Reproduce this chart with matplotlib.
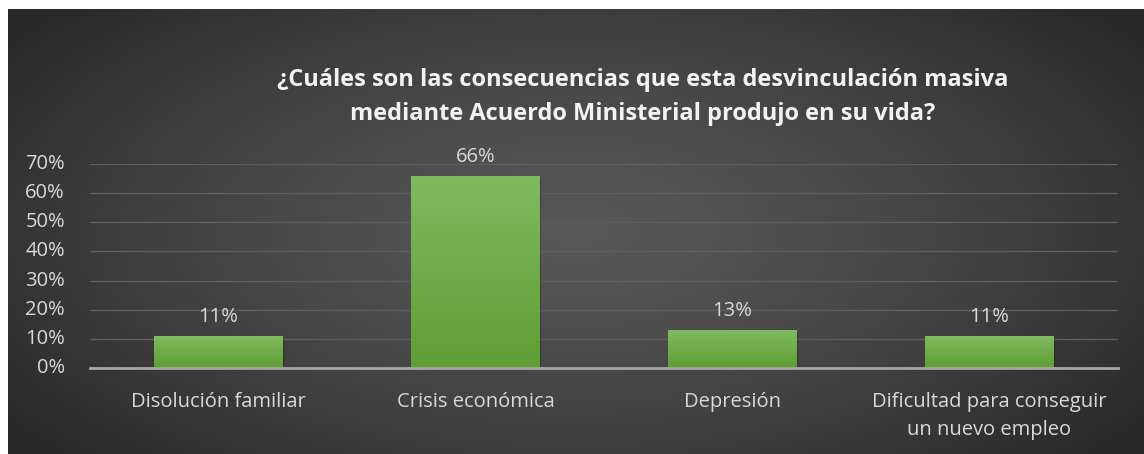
import numpy as np
import matplotlib.pyplot as plt
from matplotlib.patches import Rectangle

categorias = ["Disolución familiar", "Crisis económica", "Depresión",
              "Dificultad para conseguir\nun nuevo empleo"]
valores = [0.11, 0.66, 0.13, 0.11]
etiquetas = ["11%", "66%", "13%", "11%"]
ticks_y = [0, 0.1, 0.2, 0.3, 0.4, 0.5, 0.6, 0.7]
titulo = ("¿Cuáles son las consecuencias que esta desvinculación masiva\n"
          "mediante Acuerdo Ministerial produjo en su vida?")

plt.rcParams['font.family'] = ['Open Sans', 'DejaVu Sans']

fig = plt.figure(figsize=(11.44, 4.54), dpi=100)
fig.patch.set_facecolor("white")

# fondo con degradado radial
bg = fig.add_axes([8 / 1144, 0, 1 - 8 / 1144, 1 - 9 / 454])
yy, xx = np.mgrid[0:1:300j, 0:1:700j]
r = np.sqrt(((xx - 0.5) / 0.62) ** 2 + ((yy - 0.5) / 0.75) ** 2)
r = np.clip(r, 0, 1)
c0, c1 = 0.345, 0.16
img = c0 + (c1 - c0) * r ** 1.3
bg.imshow(np.dstack([img, img, img]), aspect="auto", extent=[0, 1, 0, 1])
bg.set_axis_off()

ax = fig.add_axes([90 / 1144, 86 / 454, 1028 / 1144, 204 / 454])
ax.patch.set_alpha(0)
x = np.arange(len(categorias))
barras = ax.bar(x, valores, width=0.5, color="#70ad47", zorder=3)

# degradado verde en cada barra
grad = np.linspace(0, 1, 100).reshape(-1, 1)
top = np.array([0.50, 0.73, 0.38])
bot = np.array([0.37, 0.62, 0.20])
cols = bot + (top - bot) * grad
for b in barras:
    x0, w, h = b.get_x(), b.get_width(), b.get_height()
    for k, a in enumerate([0.10, 0.07, 0.04]):
        d = 0.003 * (k + 1)
        ax.add_patch(Rectangle((x0 + d, -0.006 - 0.002 * k), w, h, color="black",
                               alpha=a, zorder=2, lw=0))
    im = ax.imshow(cols.reshape(100, 1, 3), extent=[x0, x0 + w, 0, h],
                   origin="lower", aspect="auto", zorder=3)
    im.set_clip_path(b)
    b.set_alpha(0)

for xi, v, t in zip(x, valores, etiquetas):
    ax.text(xi, v + 0.03, t, ha="center", va="bottom", color="#d9d9d9",
            fontsize=14.5)

ax.set_xlim(-0.5, len(categorias) - 0.5)
ax.set_ylim(0, 0.7)
ax.set_yticks(ticks_y)
ax.set_yticklabels([f"{int(round(t * 100))}%" for t in ticks_y])
ax.set_xticks(x)
ax.set_xticklabels(categorias, linespacing=1.55)
ax.tick_params(axis="both", length=0, colors="#d9d9d9", labelsize=14.5)
ax.tick_params(axis="x", pad=17)
ax.tick_params(axis="y", pad=18)
for lab in ax.get_yticklabels():
    lab.set_va("center")
ax.grid(axis="y", color="#5e5e5e", linewidth=1, zorder=0)
for s in ["top", "right", "left"]:
    ax.spines[s].set_visible(False)
ax.spines["bottom"].set_color("#a6a6a6")
ax.spines["bottom"].set_linewidth(2)
ax.spines["bottom"].set_zorder(4)

fig.text(0.562, 0.786, titulo, ha="center", va="center", color="#f2f2f2",
         fontsize=17, fontweight="bold", linespacing=1.55)

fig.savefig("out.png", dpi=100)
